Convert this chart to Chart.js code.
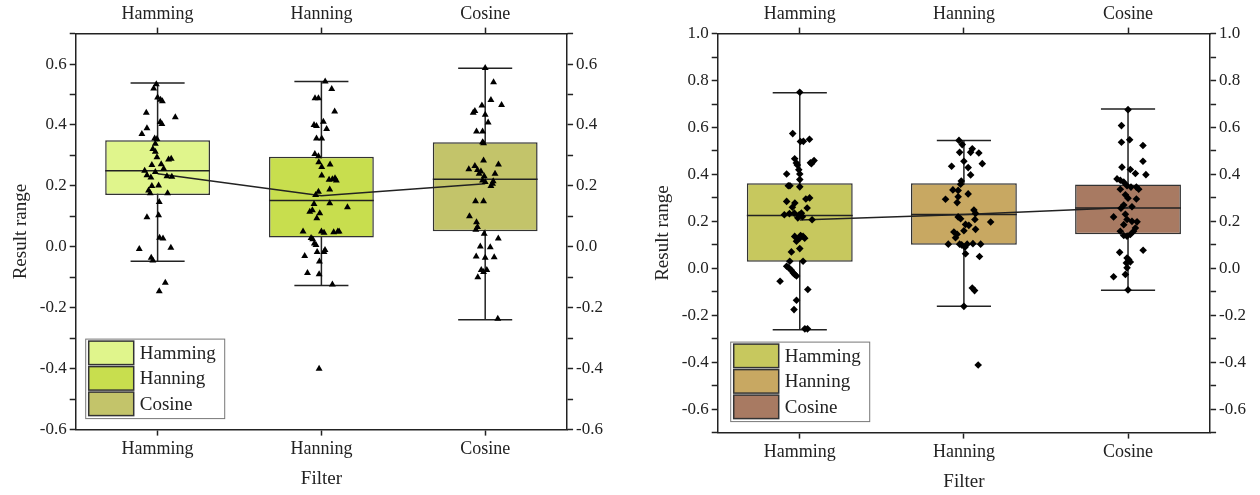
<!DOCTYPE html>
<html>
<head>
<meta charset="utf-8">
<script src="https://cdn.jsdelivr.net/npm/chart.js@4.4.1/dist/chart.umd.min.js"></script>
<style>
  html, body { margin: 0; padding: 0; background: #fff; }
  .panel { position: absolute; top: 0; width: 630px; height: 495px; }
</style>
</head>
<body>
<div class="panel" style="left:0"><canvas id="leftChart"></canvas></div>
<div class="panel" style="left:630px"><canvas id="rightChart"></canvas></div>
<script>
const categories = ['Hamming', 'Hanning', 'Cosine'];

// left panel: box statistics
const leftLow    = [-0.047, -0.127, -0.239];
const leftQ1     = [0.170, 0.031, 0.051];
const leftMedian = [0.250, 0.152, 0.222];
const leftQ3     = [0.350, 0.296, 0.343];
const leftHigh   = [0.538, 0.543, 0.586];
const leftMean   = [0.240, 0.168, 0.207];
const leftColors = ['#e0f58c', '#c8de4e', '#c3c46a'];

// right panel: box statistics
const rightLow    = [-0.262, -0.162, -0.094];
const rightQ1     = [0.028, 0.100, 0.145];
const rightMedian = [0.225, 0.229, 0.257];
const rightQ3     = [0.362, 0.362, 0.357];
const rightHigh   = [0.748, 0.545, 0.679];
const rightMean   = [0.206, 0.229, 0.259];
const rightColors = ['#c7c85e', '#c8a862', '#a87a62'];

// raw points: [jitter in category units, value]
const leftHammingPts = [[-0.008,0.534],[-0.024,0.52],[0,0.49],[0.018,0.483],[0.029,0.478],[-0.069,0.44],[0.108,0.425],[0.016,0.41],[0.026,0.403],[-0.065,0.389],[-0.096,0.37],[-0.018,0.356],[-0.004,0.354],[-0.014,0.338],[-0.029,0.321],[-0.014,0.312],[-0.004,0.294],[0.067,0.287],[0.083,0.289],[-0.035,0.269],[0.022,0.271],[-0.079,0.25],[-0.014,0.246],[0.037,0.256],[-0.065,0.235],[-0.041,0.228],[0.057,0.232],[0.087,0.23],[0.006,0.201],[-0.035,0.2],[-0.055,0.185],[-0.045,0.176],[0.061,0.176],[0.01,0.147],[-0.065,0.097],[0.006,0.104],[0.012,0.03],[0.033,0.027],[-0.112,-0.007],[0.081,-0.003],[-0.039,-0.036],[-0.029,-0.045],[0.047,-0.118],[0.01,-0.146]];
const leftHanningPts = [[0.023,0.543],[0.063,0.518],[-0.039,0.488],[-0.018,0.488],[0.081,0.444],[0.012,0.411],[-0.045,0.4],[-0.03,0.397],[0.032,0.387],[-0.03,0.356],[0.002,0.356],[-0.04,0.305],[-0.018,0.297],[-0.016,0.278],[0.002,0.262],[0.053,0.27],[0.002,0.234],[0.047,0.22],[0.067,0.222],[0.083,0.225],[0.091,0.218],[-0.018,0.181],[-0.035,0.17],[0.051,0.188],[-0.045,0.141],[0.051,0.143],[0.159,0.13],[-0.071,0.115],[-0.055,0.12],[-0.01,0.11],[-0.028,0.094],[-0.112,0.05],[0,0.05],[0.016,0.046],[0.075,0.048],[0.1,0.05],[0.108,0.05],[-0.063,0.029],[-0.053,0.025],[-0.043,0.011],[-0.033,0.006],[0.022,-0.01],[0.016,-0.017],[-0.026,-0.017],[-0.102,-0.03],[-0.012,-0.048],[-0.085,-0.086],[-0.014,-0.09],[0.067,-0.124],[-0.014,-0.4]];
const leftCosinePts = [[0,0.587],[0.051,0.54],[0.035,0.482],[0.1,0.466],[-0.02,0.464],[-0.063,0.446],[-0.073,0.44],[0,0.434],[0.018,0.408],[-0.053,0.379],[-0.016,0.379],[-0.016,0.343],[-0.01,0.34],[-0.01,0.283],[0.081,0.27],[-0.1,0.255],[-0.063,0.265],[-0.047,0.252],[-0.026,0.247],[-0.037,0.24],[-0.006,0.232],[0.06,0.24],[-0.016,0.218],[0,0.213],[0.049,0.215],[0.035,0.2],[0.045,0.207],[-0.059,0.15],[-0.01,0.15],[-0.096,0.1],[-0.053,0.081],[-0.047,0.065],[-0.057,0.056],[-0.006,0.043],[0.08,0.027],[-0.03,0.001],[0.031,-0.001],[-0.055,-0.032],[0,-0.036],[0.055,-0.034],[-0.024,-0.076],[-0.01,-0.083],[0.01,-0.076],[-0.045,-0.1],[0.077,-0.236]];

const rightHammingPts = [[0,0.75],[-0.043,0.574],[0.004,0.54],[0.022,0.541],[0.059,0.55],[-0.031,0.467],[-0.021,0.449],[0.071,0.446],[0.087,0.459],[-0.015,0.44],[0.065,0.45],[-0.006,0.42],[0,0.402],[-0.08,0.402],[0,0.378],[0,0.347],[-0.07,0.352],[-0.06,0.352],[0.06,0.3],[-0.08,0.285],[-0.03,0.278],[0.037,0.295],[-0.045,0.26],[-0.094,0.228],[-0.063,0.233],[-0.033,0.235],[0.01,0.235],[-0.004,0.228],[0.016,0.22],[-0.012,0.215],[0.045,0.257],[0.075,0.207],[-0.031,0.136],[0,0.129],[0.005,0.14],[0.03,0.128],[0.02,0.136],[-0.02,0.115],[-0.051,0.07],[0,0.084],[-0.061,0.03],[0.02,0.03],[-0.08,0.009],[-0.067,0.002],[-0.051,-0.008],[-0.041,-0.019],[-0.031,-0.026],[-0.02,-0.033],[-0.12,-0.055],[0.049,-0.09],[-0.02,-0.136],[-0.035,-0.176],[0.031,-0.258],[0.047,-0.258]];
const rightHanningPts = [[-0.03,0.545],[-0.01,0.527],[0.051,0.509],[0.041,0.494],[0.091,0.491],[-0.026,0.494],[0,0.456],[0.112,0.446],[-0.075,0.435],[0.026,0.429],[0.041,0.398],[-0.016,0.372],[-0.02,0.358],[-0.035,0.332],[-0.067,0.334],[-0.112,0.294],[0.026,0.317],[-0.035,0.305],[-0.041,0.28],[0.061,0.248],[0.071,0.234],[-0.035,0.219],[-0.02,0.211],[0.067,0.208],[0.163,0.197],[0.01,0.187],[0.03,0.183],[0.071,0.166],[-0.061,0.155],[-0.041,0.145],[-0.051,0.13],[0,0.16],[-0.095,0.103],[-0.026,0.103],[-0.014,0.1],[0.02,0.103],[0.055,0.105],[0.102,0.103],[0.006,0.09],[0.01,0.062],[0.095,0.05],[0.051,-0.084],[0.065,-0.095],[0,-0.162],[0.087,-0.412]];
const rightCosinePts = [[0,0.676],[-0.04,0.608],[-0.04,0.537],[0.01,0.548],[0.091,0.523],[0.091,0.456],[0.109,0.399],[-0.037,0.431],[0.014,0.421],[0.045,0.404],[-0.067,0.381],[-0.047,0.375],[-0.026,0.367],[-0.006,0.352],[0.018,0.346],[0.051,0.346],[0.065,0.337],[-0.047,0.337],[-0.016,0.313],[0,0.299],[0.051,0.295],[-0.026,0.27],[0.024,0.262],[-0.043,0.256],[-0.088,0.219],[-0.016,0.23],[-0.006,0.208],[0.024,0.2],[0.055,0.198],[-0.026,0.186],[0.045,0.172],[0.034,0.158],[-0.047,0.158],[-0.026,0.14],[-0.006,0.137],[0.014,0.144],[0.092,0.077],[-0.051,0.068],[-0.006,0.044],[0.004,0.037],[0.014,0.027],[-0.01,0.023],[-0.006,0.002],[-0.016,-0.026],[-0.088,-0.036],[0,-0.092]];

const serif = 'Liberation Serif';
const ink = '#222';

// whiskers under the box, median over it
const whiskerPlugin = {
  id: 'boxWhisker',
  beforeDatasetDraw(chart, args, opts) {
    if (args.index !== 0) return;
    const ctx = chart.ctx, xs = chart.scales.x, ys = chart.scales.y;
    const half = xs.width / categories.length * opts.capFrac / 2;
    ctx.save();
    ctx.strokeStyle = ink;
    ctx.lineWidth = 1.5;
    categories.forEach((c, i) => {
      const px = xs.getPixelForValue(i);
      const top = ys.getPixelForValue(opts.high[i]);
      const bot = ys.getPixelForValue(opts.low[i]);
      ctx.beginPath();
      ctx.moveTo(px, top); ctx.lineTo(px, bot);
      ctx.moveTo(px - half, top); ctx.lineTo(px + half, top);
      ctx.moveTo(px - half, bot); ctx.lineTo(px + half, bot);
      ctx.stroke();
    });
    ctx.restore();
  },
  afterDatasetDraw(chart, args, opts) {
    if (args.index !== 0) return;
    const ctx = chart.ctx, ys = chart.scales.y;
    ctx.save();
    ctx.strokeStyle = ink;
    ctx.lineWidth = 1.5;
    args.meta.data.forEach((bar, i) => {
      const p = bar.getProps(['x', 'width'], true);
      const py = ys.getPixelForValue(opts.median[i]);
      ctx.beginPath();
      ctx.moveTo(p.x - p.width / 2, py);
      ctx.lineTo(p.x + p.width / 2, py);
      ctx.stroke();
    });
    ctx.restore();
  }
};

// Origin style legend in the lower left corner
const legendPlugin = {
  id: 'boxLegend',
  afterDraw(chart, args, opts) {
    const ctx = chart.ctx, area = chart.chartArea;
    const rowH = 25.5, swW = 45, w = opts.width, h = rowH * categories.length + 3;
    const x0 = area.left + opts.dx, y0 = area.bottom - opts.dy - h;
    ctx.save();
    ctx.fillStyle = '#fff';
    ctx.fillRect(x0, y0, w, h);
    ctx.strokeStyle = '#777';
    ctx.lineWidth = 1;
    ctx.strokeRect(x0, y0, w, h);
    ctx.font = '19px "' + serif + '"';
    ctx.textBaseline = 'middle';
    categories.forEach((c, i) => {
      const sy = y0 + 2 + i * rowH;
      ctx.fillStyle = opts.colors[i];
      ctx.fillRect(x0 + 3, sy, swW, rowH - 2);
      ctx.strokeStyle = '#333';
      ctx.lineWidth = 1.5;
      ctx.strokeRect(x0 + 3, sy, swW, rowH - 2);
      ctx.fillStyle = ink;
      ctx.fillText(c, x0 + swW + 9, sy + rowH / 2);
    });
    ctx.restore();
  }
};

function tickLabel(value) {
  const k = Math.round(value * 10);
  return k % 2 === 0 ? (k / 10).toFixed(1) : '';
}

function axisBase(position) {
  return {
    position: position,
    grid: { display: true, drawOnChartArea: false, offset: false, tickLength: 6, tickColor: ink, tickWidth: 1.5 },
    border: { display: true, color: ink, width: 1.5 },
    ticks: { color: ink, font: { family: serif, size: 17 }, padding: 3 }
  };
}

function makePanel(id, p) {
  const xBottom = Object.assign(axisBase('bottom'), {
    type: 'category', offset: true,
    title: { display: true, text: 'Filter', color: ink, font: { family: serif, size: 19 }, padding: { top: 4, bottom: 0 } }
  });
  xBottom.ticks.font = { family: serif, size: 18 };
  const xTop = Object.assign(axisBase('top'), { type: 'category', labels: categories, offset: true });
  xTop.ticks.font = { family: serif, size: 18 };
  const yLeft = Object.assign(axisBase('left'), {
    type: 'linear', min: p.min, max: p.max,
    title: { display: true, text: 'Result range', color: ink, font: { family: serif, size: 19 }, padding: { top: 0, bottom: 4 } }
  });
  yLeft.ticks = Object.assign(yLeft.ticks, { stepSize: 0.1, autoSkip: false, callback: tickLabel });
  const yRight = Object.assign(axisBase('right'), { type: 'linear', min: p.min, max: p.max });
  yRight.ticks = Object.assign(yRight.ticks, { stepSize: 0.1, autoSkip: false, callback: tickLabel });

  const points = [];
  p.pts.forEach((grp, i) => grp.forEach(pt => points.push({ x: i + pt[0], y: pt[1] })));

  return new Chart(document.getElementById(id), {
    type: 'bar',
    data: {
      labels: categories,
      datasets: [
        {
          type: 'bar',
          data: p.q1.map((v, i) => [v, p.q3[i]]),
          backgroundColor: p.colors,
          borderColor: '#333',
          borderWidth: 1.5,
          borderSkipped: false,
          grouped: false,
          categoryPercentage: 1,
          barPercentage: p.boxFrac,
          order: 3
        },
        {
          type: 'line',
          data: p.mean,
          borderColor: ink,
          borderWidth: 1.5,
          pointRadius: 0,
          fill: false,
          order: 2
        },
        {
          type: 'scatter',
          xAxisID: 'xj',
          data: points,
          pointStyle: p.marker,
          pointRadius: p.markerSize,
          backgroundColor: '#000',
          borderColor: '#000',
          borderWidth: 0,
          order: 1
        }
      ]
    },
    options: {
      responsive: true,
      maintainAspectRatio: false,
      animation: false,
      layout: { padding: p.padding },
      plugins: {
        legend: { display: false },
        tooltip: { enabled: false },
        boxWhisker: { low: p.low, high: p.high, median: p.median, capFrac: 0.33 },
        boxLegend: { colors: p.colors, dx: p.legendDx, dy: 11, width: 139 }
      },
      scales: {
        x: xBottom,
        x2: xTop,
        xj: { type: 'linear', display: false, offset: false, min: -0.5, max: 2.5 },
        y: yLeft,
        y2: yRight
      }
    },
    plugins: [whiskerPlugin, legendPlugin]
  });
}

makePanel('leftChart', {
  min: -0.6, max: 0.7,
  low: leftLow, q1: leftQ1, median: leftMedian, q3: leftQ3, high: leftHigh, mean: leftMean,
  colors: leftColors,
  pts: [leftHammingPts, leftHanningPts, leftCosinePts],
  marker: 'triangle', markerSize: 4, boxFrac: 0.64, legendDx: 10,
  padding: { left: 10, right: 24, top: 0, bottom: 5 }
});

makePanel('rightChart', {
  min: -0.7, max: 1.0,
  low: rightLow, q1: rightQ1, median: rightMedian, q3: rightQ3, high: rightHigh, mean: rightMean,
  colors: rightColors,
  pts: [rightHammingPts, rightHanningPts, rightCosinePts],
  marker: 'rectRot', markerSize: 3.8, boxFrac: 0.645, legendDx: 13,
  padding: { left: 22, right: 11, top: 0, bottom: 2 }
});
</script>
</body>
</html>
